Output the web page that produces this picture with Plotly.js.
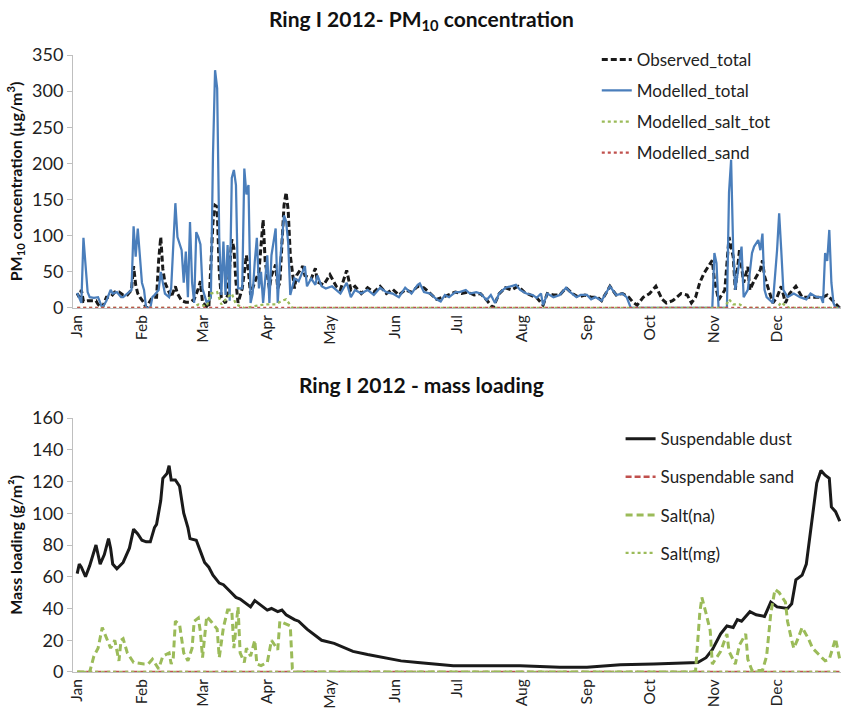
<!DOCTYPE html>
<html>
<head>
<meta charset="utf-8">
<script src="https://cdn.plot.ly/plotly-3.0.1.min.js"></script>
<style>
  body { margin: 0; background: #fff; }
  #chart { width: 841px; height: 709px; }
</style>
</head>
<body>
<div id="chart"></div>
<script>
// month ticks (day of year 2012)
var monthStarts = [0, 31, 60, 91, 121, 152, 182, 213, 244, 274, 305, 335];
var monthNames = ['Jan', 'Feb', 'Mar', 'Apr', 'May', 'Jun', 'Jul', 'Aug', 'Sep', 'Oct', 'Nov', 'Dec'];

// --- PM10 concentration (ug/m3) ---
var obsDays = [0,1,2,3,5,7,9,10,12,14,16,18,20,22,24,26,27,28,29,30,32,33,36,38,39,40,41,42,44,45,47,48,50,52,54,56,58,59,60,63,65,66,67,68,69,71,72,74,75,76,77,79,81,82,83,85,87,88,89,90,92,93,95,96,97,99,100,101,102,104,105,108,109,112,114,115,118,121,124,126,129,131,133,136,139,142,145,148,151,154,157,160,163,166,169,172,175,178,181,184,187,190,193,196,199,202,205,208,211,214,217,220,223,225,228,231,234,237,240,243,246,249,251,255,258,261,264,266,268,271,274,277,280,282,285,287,289,292,294,296,298,300,301,304,305,307,310,312,314,315,317,319,321,322,324,327,328,329,331,333,335,337,339,341,344,347,351,354,357,359,361,363,365];
var obsVals = [20,15,25,9,10,10,10,5,0,15,15,22,22,18,18,25,58,32,20,15,7,0,15,15,66,98,54,35,20,15,30,20,10,8,8,12,27,37,7,0,119,142,140,50,14,7,18,95,83,36,7,27,73,50,18,36,50,92,122,64,27,45,60,27,35,142,160,135,73,27,45,58,45,40,55,36,32,46,30,25,52,25,30,20,28,22,30,20,26,18,25,22,30,28,20,12,15,18,22,20,22,18,20,11,0,20,28,25,30,22,18,14,4,20,18,18,28,20,15,18,15,15,10,30,18,20,15,8,4,15,20,30,12,7,10,15,20,18,7,15,35,48,53,66,39,11,25,98,71,25,80,35,57,25,38,53,66,44,25,7,15,30,7,20,30,15,15,15,15,18,12,5,0];

var modDays = [0,1,2,3,4,5,6,8,10,11,12,14,16,17,19,21,22,24,26,27,28,29,30,31,32,33,35,36,37,39,40,42,44,45,47,48,50,51,52,53,54,55,56,57,58,59,60,62,64,65,66,67,68,69,70,71,72,73,74,75,76,77,79,80,81,82,83,84,85,86,87,88,89,91,92,93,95,96,97,98,99,100,101,102,104,106,107,109,110,112,114,115,117,119,122,124,126,129,131,133,136,139,142,145,148,151,154,157,160,163,164,166,169,172,174,176,178,181,183,186,188,191,193,196,198,200,202,205,207,210,212,215,218,220,222,223,225,228,231,234,236,239,241,244,246,248,251,253,255,258,261,263,265,304,305,306,307,311,312,313,314,315,316,318,319,321,323,324,326,327,328,329,330,333,335,336,337,338,340,343,346,349,351,354,356,357,358,359,360,361,362,363,365];
var modVals = [21,15,7,97,60,22,15,14,15,8,0,10,25,20,22,15,15,20,25,113,71,110,66,35,25,0,0,15,18,25,50,20,15,28,145,98,80,35,78,15,119,35,7,105,98,88,27,7,14,212,329,304,97,18,92,18,87,10,180,191,170,27,27,193,157,170,7,20,64,97,27,50,7,73,7,73,110,7,60,92,128,120,90,18,41,37,45,58,30,41,32,45,30,27,30,25,20,35,15,25,20,25,18,28,22,20,15,28,20,32,34,22,20,12,9,18,15,22,22,25,20,22,20,11,18,7,20,28,30,32,25,20,18,14,20,4,20,15,18,28,22,15,18,18,12,15,10,20,30,18,20,15,0,0,76,62,0,0,160,205,80,25,43,85,15,25,76,85,94,80,103,25,15,7,80,131,80,25,15,20,15,12,20,15,15,7,76,65,108,35,7,0,0];

var saltTotDays = [0,55,58,62,64,67,69,72,74,76,80,85,90,95,98,100,103,310,312,314,317,320,335,337,339,341,365];
var saltTotVals = [0,0,5,2,20,22,5,15,20,5,0,3,5,5,10,12,0,0,12,5,5,0,0,8,3,0,0];

var sandDays = [0,365];
var sandVals = [0,0];

// --- mass loading (g/m2) ---
var dustDays = [0,1,2,4,6,9,11,13,15,16,17,19,22,25,27,29,31,33,35,37,38,40,41,43,44,45,47,49,51,53,54,57,59,61,63,65,68,70,73,76,78,81,83,85,88,91,93,96,98,100,104,106,110,113,117,123,128,132,139,147,155,163,180,212,231,244,260,276,292,297,301,304,308,311,314,316,318,322,325,329,332,335,340,342,344,347,349,352,354,356,358,360,361,363,365];
var dustVals = [62,68,66,60,67,80,68,74,84,78,68,65,69,78,90,87,83,82,82,91,93,108,122,125,130,121,121,117,100,91,84,83,76,69,66,61,56,55,51,47,46,43,41,45,42,39,40,38,39,36,33,32,27,24,20,18,15,13,11,9,7,6,4,4,3,3,4.6,5,6,6,9,14,24,29,28,33,32,38,36,35,44,41,40,43,58,61,68,98,119,127,124,122,104,101,95];

var saltNaDays = [0,6,8,10,12,14,16,18,20,21,22,24,27,32,34,36,39,41,44,45,46,47,49,51,53,55,56,58,59,60,62,64,67,68,70,72,74,75,77,78,80,81,83,85,86,88,91,93,94,96,97,99,102,103,105,295,296,298,299,301,303,304,306,308,311,312,315,317,320,321,323,328,330,332,334,336,339,340,342,343,345,347,350,352,355,358,360,362,363,365];
var saltNaVals = [0,0,10,15,28,21,15,20,7,20,21,12,6,5,5,8,2,10,12,5,9,32,30,12,7,15,32,34,25,9,35,32,27,9,28,39,39,15,41,12,6,15,10,20,5,4,6,20,18,14,32,31,29,2,0,0,1,37,47,37,26,5,9,13,24,13,5,17,24,8,1,1,10,37,52,50,44,32,20,15,21,28,21,15,11,7,8,17,21,8];

var saltMgDays = [0,365];
var saltMgVals = [0,0];

var sandLoadDays = [0,365];
var sandLoadVals = [0,0];

var FONT = 'Lato, "Open Sans", sans-serif';
var BLUE = '#4a7ebb', GREEN = '#9bbb59', RED = '#c0504d', BLACK = '#1a1a1a';

var traces = [
  {x: obsDays, y: obsVals, name: 'Observed_total', legendgroup: 'a', mode: 'lines',
   line: {color: BLACK, width: 3, dash: '6px,3px'}, xaxis: 'x', yaxis: 'y', legend: 'legend'},
  {x: modDays, y: modVals, name: 'Modelled_total', legendgroup: 'b', mode: 'lines',
   line: {color: BLUE, width: 2.25}, xaxis: 'x', yaxis: 'y', legend: 'legend'},
  {x: saltTotDays, y: saltTotVals, name: 'Modelled_salt_tot', legendgroup: 'c', mode: 'lines',
   line: {color: GREEN, width: 2.25, dash: 'dot'}, xaxis: 'x', yaxis: 'y', legend: 'legend'},
  {x: sandDays, y: sandVals, name: 'Modelled_sand', legendgroup: 'd', mode: 'lines',
   line: {color: RED, width: 2.25, dash: 'dot'}, xaxis: 'x', yaxis: 'y', legend: 'legend'},

  {x: dustDays, y: dustVals, name: 'Suspendable dust', legendgroup: 'e', mode: 'lines',
   line: {color: BLACK, width: 3}, xaxis: 'x2', yaxis: 'y2', legend: 'legend2'},
  {x: sandLoadDays, y: sandLoadVals, name: 'Suspendable sand', legendgroup: 'f', mode: 'lines',
   line: {color: RED, width: 2.5, dash: '6px,3px'}, xaxis: 'x2', yaxis: 'y2', legend: 'legend2'},
  {x: saltNaDays, y: saltNaVals, name: 'Salt(na)', legendgroup: 'g', mode: 'lines',
   line: {color: GREEN, width: 3, dash: '7px,4px'}, xaxis: 'x2', yaxis: 'y2', legend: 'legend2'},
  {x: saltMgDays, y: saltMgVals, name: 'Salt(mg)', legendgroup: 'h', mode: 'lines',
   line: {color: GREEN, width: 2.25, dash: 'dot'}, xaxis: 'x2', yaxis: 'y2', legend: 'legend2'}
];

function xAxis(dom) {
  return {
    domain: [0, 1], anchor: dom, range: [-2, 365.6],
    tickvals: monthStarts, ticktext: monthNames, tickangle: -90,
    showline: true, linecolor: '#bfbfbf', linewidth: 1,
    showgrid: false, zeroline: false, ticks: '', automargin: false,
    tickfont: {family: FONT, size: 15.5, color: '#222'}
  };
}
function yAxis(dom, range, dtick, title) {
  return {
    domain: dom, range: range, dtick: dtick,
    showline: true, linecolor: '#bfbfbf', linewidth: 1,
    ticks: 'outside', ticklen: 5, tickcolor: '#bfbfbf',
    showgrid: false, zeroline: false, automargin: false,
    tickfont: {family: FONT, size: 18, color: '#222'},
    title: {text: title, standoff: 5, font: {family: FONT, size: 16, color: '#111', weight: 'bold'}}
  };
}

var layout = {
  width: 841, height: 709,
  margin: {l: 73, r: 0, t: 0, b: 0},
  paper_bgcolor: '#fff', plot_bgcolor: '#fff',
  font: {family: FONT, color: '#222'},
  xaxis: xAxis('y'),
  yaxis: yAxis([0.5656, 0.9224], [0, 350], 50, '<b>PM<sub>10</sub> concentration (µg/m<sup>3</sup>)</b>'),
  xaxis2: xAxis('y2'),
  yaxis2: yAxis([0.0522, 0.4104], [0, 160], 20, '<b>Mass loading (g/m²)</b>'),
  legend: {
    x: 0.682, y: 0.941, xanchor: 'left', yanchor: 'top',
    bgcolor: 'rgba(0,0,0,0)', tracegroupgap: 6, traceorder: 'grouped',
    font: {family: FONT, size: 17, color: '#222'}
  },
  legend2: {
    x: 0.713, y: 0.406, xanchor: 'left', yanchor: 'top',
    bgcolor: 'rgba(0,0,0,0)', tracegroupgap: 13, traceorder: 'grouped',
    font: {family: FONT, size: 17, color: '#222'}
  },
  annotations: [
    {text: '<b>Ring I 2012- PM<sub>10</sub> concentration</b>', xref: 'paper', yref: 'paper',
     x: 0.4544, y: 0.972, xanchor: 'center', yanchor: 'middle', showarrow: false,
     font: {family: FONT, size: 21, color: '#111'}},
    {text: '<b>Ring I 2012 - mass loading</b>', xref: 'paper', yref: 'paper',
     x: 0.4544, y: 0.457, xanchor: 'center', yanchor: 'middle', showarrow: false,
     font: {family: FONT, size: 21, color: '#111'}}
  ],
  showlegend: true
};

Plotly.newPlot('chart', traces, layout, {displayModeBar: false, staticPlot: true});
</script>
</body>
</html>
